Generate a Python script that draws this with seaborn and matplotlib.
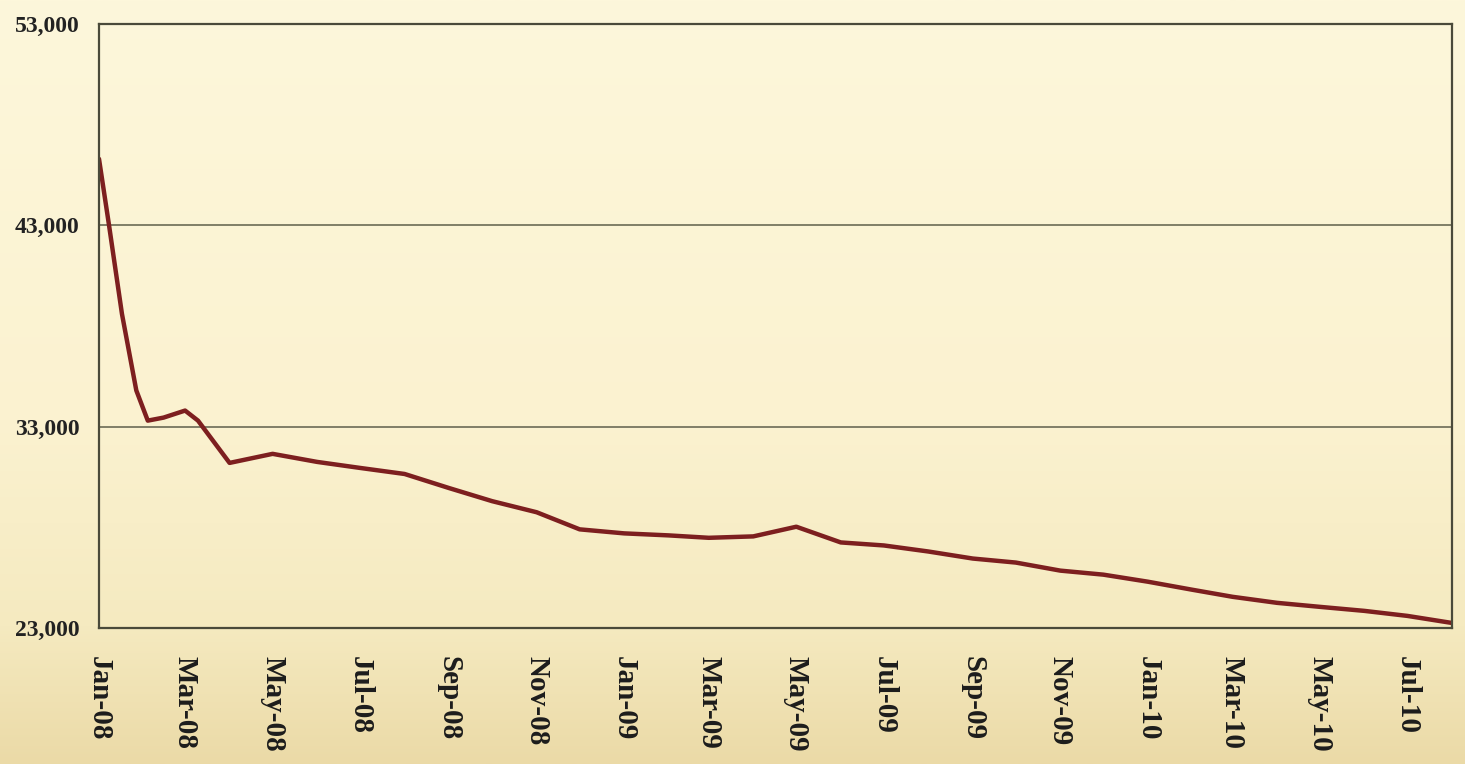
import numpy as np
import pandas as pd
import matplotlib
matplotlib.use("Agg")
import matplotlib.pyplot as plt
import matplotlib.dates as mdates
from matplotlib.colors import LinearSegmentedColormap
from matplotlib.ticker import FuncFormatter
import seaborn as sns

# Values
dates = ["2008-01-01", "2008-01-08", "2008-01-17", "2008-01-27", "2008-02-04",
         "2008-02-15", "2008-03-01", "2008-03-10", "2008-04-01", "2008-05-01",
         "2008-06-01", "2008-07-01", "2008-08-01", "2008-09-01", "2008-10-01",
         "2008-11-01", "2008-12-01", "2009-01-01", "2009-02-01", "2009-03-01",
         "2009-04-01", "2009-05-01", "2009-06-01", "2009-07-01", "2009-08-01",
         "2009-09-01", "2009-10-01", "2009-11-01", "2009-12-01", "2010-01-01",
         "2010-02-01", "2010-03-01", "2010-04-01", "2010-05-01", "2010-06-01",
         "2010-07-01", "2010-08-01"]
values = [46300, 43000, 38600, 34800, 33300,
          33450, 33800, 33300, 31200, 31650,
          31250, 30950, 30650, 29950, 29300,
          28750, 27900, 27700, 27600, 27480,
          27550, 28030, 27250, 27100, 26800,
          26450, 26250, 25850, 25650, 25300,
          24900, 24550, 24250, 24050, 23850,
          23600, 23250]
y_ticks = [23000, 33000, 43000, 53000]

df = pd.DataFrame({"Date": pd.to_datetime(dates), "Value": values})

sns.set_style("white")
plt.rcParams["font.family"] = ["Liberation Serif", "DejaVu Serif"]

fig = plt.figure(figsize=(14.65, 7.64), dpi=100)

# cream-to-tan background gradient behind everything
bg = fig.add_axes([0, 0, 1, 1], zorder=0)
cmap = LinearSegmentedColormap.from_list(
    "paper", [(0, "#fdf7db"), (0.55, "#fbf2d0"), (0.82, "#f5eac0"), (1, "#ebdaa7")])
grad = np.linspace(0, 1, 256).reshape(-1, 1)
bg.imshow(grad, aspect="auto", cmap=cmap, extent=[0, 1, 0, 1], origin="upper")
bg.axis("off")

ax = fig.add_axes([99 / 1465, 1 - 628 / 764, (1452 - 99) / 1465, (628 - 24) / 764], zorder=1)
ax.patch.set_alpha(0)

sns.lineplot(data=df, x="Date", y="Value", ax=ax, color="#7d1f1f", linewidth=3.2,
             solid_joinstyle="round", solid_capstyle="round")

ax.set_ylim(23000, 53000)
ax.set_yticks(y_ticks)
ax.yaxis.set_major_formatter(FuncFormatter(lambda v, p: f"{int(v):,}"))
ax.set_xlim(pd.Timestamp("2008-01-01"), pd.Timestamp("2010-08-01"))
ax.xaxis.set_major_locator(mdates.MonthLocator(bymonth=[1, 3, 5, 7, 9, 11]))
ax.xaxis.set_major_formatter(mdates.DateFormatter("%b-%y"))

for g in [33000, 43000]:
    ax.axhline(g, color="#5e5e4a", linewidth=1.1, zorder=0)

for s in ax.spines.values():
    s.set_visible(True)
    s.set_color("#4a4a3a")
    s.set_linewidth(1.6)

ax.tick_params(axis="y", length=7, width=1, color="#4a4a3a", pad=7,
               labelsize=17, labelcolor="#222222")
ax.tick_params(axis="x", length=6, width=1, color="#d6cca8", pad=14,
               labelsize=21, labelcolor="#1c1c1c")
for lbl in ax.get_yticklabels():
    lbl.set_fontweight("bold")
for lbl in ax.get_xticklabels():
    lbl.set_fontweight("bold")
    lbl.set_rotation(270)
    lbl.set_va("top")
    lbl.set_ha("center")

ax.set_xlabel("")
ax.set_ylabel("")

fig.savefig("out.png", dpi=100)
